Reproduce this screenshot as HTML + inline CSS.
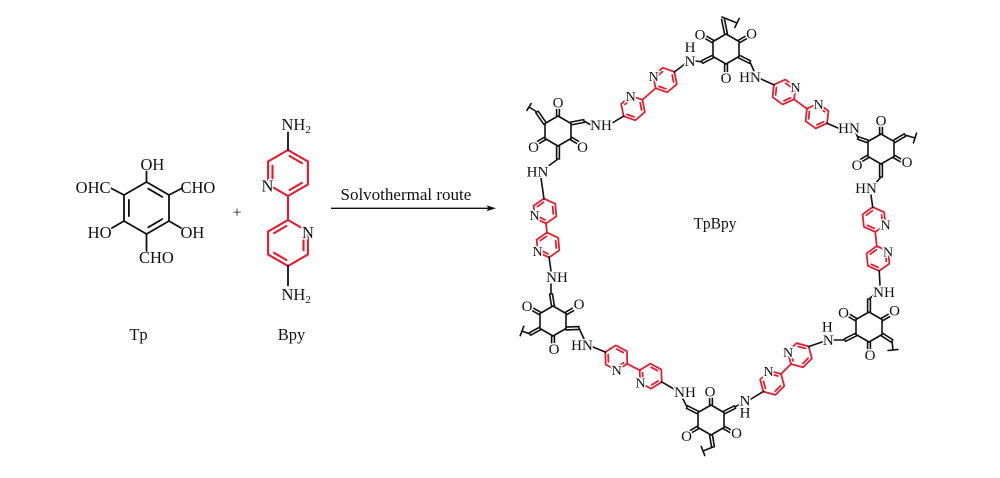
<!DOCTYPE html>
<html>
<head>
<meta charset="utf-8">
<style>
  html, body { margin: 0; padding: 0; background: #ffffff; }
  body { width: 1000px; height: 478px; overflow: hidden; }
  svg { display: block; }
  text { font-family: "Liberation Serif", "Times New Roman", serif; fill: #111; }
  .lbl { font-size: 16.5px; }
  .fl { font-size: 15px; text-anchor: middle; stroke: #fff; stroke-width: 3px; paint-order: stroke; stroke-linejoin: round; }
  .nl { font-size: 14px; text-anchor: middle; stroke: #fff; stroke-width: 3px; paint-order: stroke; stroke-linejoin: round; }
  .k { fill: none; stroke: #111; stroke-width: 1.8; stroke-linecap: round; stroke-linejoin: round; }
  .kf { fill: none; stroke: #111; stroke-width: 1.6; stroke-linecap: round; stroke-linejoin: round; }
  .rl { fill: none; stroke: #e8192c; stroke-width: 2.1; stroke-linecap: round; stroke-linejoin: round; }
  .r { fill: none; stroke: #e8192c; stroke-width: 1.75; stroke-linecap: round; stroke-linejoin: round; }
</style>
</head>
<body>
<svg width="1000" height="478" viewBox="0 0 1000 478" xmlns="http://www.w3.org/2000/svg">
  <rect width="1000" height="478" fill="#fff"/>

  <!-- ===== Tp monomer ===== -->
  <path class="k" d="M146.5,182L169,195L169,221L146.5,234L124,221L124,195Z
    M148.3,188.7L162.3,196.9 M128.9,199.9L128.9,216.1 M162.3,219.1L148.3,227.3
    M146.5,182L146.5,171.5 M124,195L111.5,188.5 M169,195L181.5,188.5
    M124,221L112,228 M169,221L181,228 M146.5,234L146.5,251"/>
  <text class="lbl" x="140.5" y="170">OH</text>
  <text class="lbl" x="110.5" y="193" text-anchor="end">OHC</text>
  <text class="lbl" x="180.5" y="193">CHO</text>
  <text class="lbl" x="111.5" y="238" text-anchor="end">HO</text>
  <text class="lbl" x="180.5" y="238">OH</text>
  <text class="lbl" x="139" y="263">CHO</text>
  <text class="lbl" x="138.5" y="340" text-anchor="middle">Tp</text>

  <text x="237" y="217.5" font-size="16" text-anchor="middle">+</text>

  <!-- ===== Bpy monomer ===== -->
  <path class="rl" d="M288,150L307.9,161.5L307.9,184.5L288,196L268.1,184.5L268.1,161.5Z
    M289.6,156L301.9,163.1 M301.9,182.9L289.6,190 M272.5,180.2L272.5,165.8
    M288,196L288,220
    M288,220L307.9,231.5L307.9,254.5L288,266L268.1,254.5L268.1,231.5Z
    M303.5,235.8L303.5,250.2 M286.4,260L274.1,252.9 M274.1,233.1L286.4,226"/>
  <path class="k" d="M288,150L288,132.5 M288,266L288,285.5"/>
  <text class="lbl" x="281.5" y="130">NH<tspan font-size="11" dy="3">2</tspan></text>
  <text class="lbl" x="281.5" y="300">NH<tspan font-size="11" dy="3">2</tspan></text>
  <text class="lbl" x="267.5" y="191.5" text-anchor="middle" stroke="#fff" stroke-width="3" paint-order="stroke">N</text>
  <text class="lbl" x="308" y="238" text-anchor="middle" stroke="#fff" stroke-width="3" paint-order="stroke">N</text>
  <text class="lbl" x="291.5" y="340" text-anchor="middle">Bpy</text>

  <!-- ===== Arrow ===== -->
  <text x="340.5" y="200" font-size="17">Solvothermal route</text>
  <line x1="331" y1="208.3" x2="489" y2="208.3" stroke="#111" stroke-width="1.3"/>
  <polygon points="496,208.3 486.5,205.3 488.5,208.3 486.5,211.3" fill="#111"/>

  <!-- ===== Framework: pyridine rings (red) ===== -->
  <g class="r">
    <g transform="translate(633,108) rotate(-41)"><path d="M12.5,0L6.25,10.83L-6.25,10.83L-12.5,0L-6.25,-10.83L6.25,-10.83Z M8.79,0.8L5.09,7.21 M-5.09,7.21L-8.79,0.8 M-3.7,-8.01L3.7,-8.01"/></g>
    <g transform="translate(665,80) rotate(-41)"><path d="M12.5,0L6.25,10.83L-6.25,10.83L-12.5,0L-6.25,-10.83L6.25,-10.83Z M8.79,0.8L5.09,7.21 M-5.09,7.21L-8.79,0.8 M-3.7,-8.01L3.7,-8.01"/></g>
    <g transform="translate(784,92) rotate(36)"><path d="M12.5,0L6.25,10.83L-6.25,10.83L-12.5,0L-6.25,-10.83L6.25,-10.83Z M8.79,0.8L5.09,7.21 M-5.09,7.21L-8.79,0.8 M-3.7,-8.01L3.7,-8.01"/></g>
    <g transform="translate(817,116) rotate(36)"><path d="M12.5,0L6.25,10.83L-6.25,10.83L-12.5,0L-6.25,-10.83L6.25,-10.83Z M8.79,0.8L5.09,7.21 M-5.09,7.21L-8.79,0.8 M-3.7,-8.01L3.7,-8.01"/></g>
    <g transform="translate(874,219.5) rotate(84)"><path d="M12.5,0L6.25,10.83L-6.25,10.83L-12.5,0L-6.25,-10.83L6.25,-10.83Z M8.79,0.8L5.09,7.21 M-5.09,7.21L-8.79,0.8 M-3.7,-8.01L3.7,-8.01"/></g>
    <g transform="translate(878,258.5) rotate(84)"><path d="M12.5,0L6.25,10.83L-6.25,10.83L-12.5,0L-6.25,-10.83L6.25,-10.83Z M8.79,0.8L5.09,7.21 M-5.09,7.21L-8.79,0.8 M-3.7,-8.01L3.7,-8.01"/></g>
    <g transform="translate(799.8,355.2) rotate(135)"><path d="M12.5,0L6.25,10.83L-6.25,10.83L-12.5,0L-6.25,-10.83L6.25,-10.83Z M8.79,0.8L5.09,7.21 M-5.09,7.21L-8.79,0.8 M-3.7,-8.01L3.7,-8.01"/></g>
    <g transform="translate(772.2,382.8) rotate(135)"><path d="M12.5,0L6.25,10.83L-6.25,10.83L-12.5,0L-6.25,-10.83L6.25,-10.83Z M8.79,0.8L5.09,7.21 M-5.09,7.21L-8.79,0.8 M-3.7,-8.01L3.7,-8.01"/></g>
    <g transform="translate(616.3,357.9) rotate(28)"><path d="M12.5,0L6.25,10.83L-6.25,10.83L-12.5,0L-6.25,-10.83L6.25,-10.83Z M8.79,0.8L5.09,7.21 M-5.09,7.21L-8.79,0.8 M-3.7,-8.01L3.7,-8.01"/></g>
    <g transform="translate(650.7,376.1) rotate(28)"><path d="M12.5,0L6.25,10.83L-6.25,10.83L-12.5,0L-6.25,-10.83L6.25,-10.83Z M8.79,0.8L5.09,7.21 M-5.09,7.21L-8.79,0.8 M-3.7,-8.01L3.7,-8.01"/></g>
    <g transform="translate(545,211) rotate(85)"><path d="M12.5,0L6.25,10.83L-6.25,10.83L-12.5,0L-6.25,-10.83L6.25,-10.83Z M8.79,0.8L5.09,7.21 M-5.09,7.21L-8.79,0.8 M-3.7,-8.01L3.7,-8.01"/></g>
    <g transform="translate(548,245) rotate(85)"><path d="M12.5,0L6.25,10.83L-6.25,10.83L-12.5,0L-6.25,-10.83L6.25,-10.83Z M8.79,0.8L5.09,7.21 M-5.09,7.21L-8.79,0.8 M-3.7,-8.01L3.7,-8.01"/></g>
    <!-- inter-ring bonds -->
    <path d="M642.1,100.1L655.9,87.9 M793.7,99.1L807.3,109 M875.2,231.4L876.8,246.6
             M791.3,363.7L780.7,374.3 M626.9,363.5L640.1,370.5 M546,223L547,233"/>
  </g>

  <!-- linker-to-amine bonds (black) -->
  <path class="kf" d="M623.9,115.9L613,122.5 M674.1,72.1L685,64
    M774.3,85L761,79 M826.7,123.1L838,128
    M872.8,207.6L871,195 M879.2,270.4L880,285
    M808.3,346.7L822,342 M763.7,391.3L751,399
    M605.7,352.3L593,347 M661.3,381.7L674,389
    M544,199L541,178 M549,257L551,271"/>

  <!-- ===== Framework: Tp cores (black) ===== -->
  <path class="kf" d="
    M558,116L571,123.5L571,138.5L558,146L545,138.5L545,123.5Z
    M556.6,116L556.6,109M559.4,116L559.4,109
    M544.3,137.3L537.4,141.3M545.7,139.7L538.8,143.7
    M570.3,139.7L577.2,143.7M571.7,137.3L578.6,141.3
    M571.3,124.9L584.3,122.4M570.7,122.1L583.7,119.6 M584,121L590,124.5
    M556.6,146L556.6,159M559.4,146L559.4,159 M558,159L547,167
    M546.2,122.7L538.2,111.2M543.8,124.3L535.8,112.8 M537,112L529,107 M531.1,103.6L526.9,110.4

    M726,34L739,41.5L739,56.5L726,64L713,56.5L713,41.5Z
    M713.7,40.3L706.8,36.3M712.3,42.7L705.4,38.7
    M739.7,42.7L746.6,38.7M738.3,40.3L745.2,36.3
    M724.6,64L724.6,72M727.4,64L727.4,72
    M727.4,33.7L724.4,18.7M724.6,34.3L721.6,19.3 M722,17L737,23 M739.2,18.5L734.8,27.5
    M712.4,55.3L701.4,60.8M713.6,57.8L702.6,63.3 M702,62L696,61
    M738.4,57.8L749.4,63.3M739.6,55.3L750.6,60.8 M750,62L754,71

    M881,134L894,141.5L894,156.5L881,164L868,156.5L868,141.5Z
    M879.6,134L879.6,127M882.4,134L882.4,127
    M867.3,155.3L860.4,159.3M868.7,157.7L861.8,161.7
    M893.3,157.7L900.2,161.7M894.7,155.3L901.6,159.3
    M868.5,140.2L858.5,136.7M867.5,142.8L857.5,139.3 M858,138L856,133
    M894.7,142.7L905.7,136.2M893.3,140.3L904.3,133.8 M905,135L915,138 M916.5,133.2L913.5,142.8
    M879.6,164L879.6,177M882.4,164L882.4,177 M881,177L875,184

    M869,312L882,319.5L882,334.5L869,342L856,334.5L856,319.5Z
    M856.7,318.3L849.8,314.3M855.3,320.7L848.4,316.7
    M882.7,320.7L889.6,316.7M881.3,318.3L888.2,314.3
    M867.6,342L867.6,349M870.4,342L870.4,349
    M867.6,312L867.6,299M870.4,312L870.4,299 M869,299L875,294
    M855.4,333.3L844.4,338.8M856.6,335.8L845.6,341.3 M845,340L834,340
    M881.2,335.7L891.2,342.2M882.8,333.3L892.8,339.8 M892,341L893,350 M888,350.5L898,349.5

    M711,405L724,412.5L724,427.5L711,435L698,427.5L698,412.5Z
    M709.6,405L709.6,398M712.4,405L712.4,398
    M697.3,426.3L690.4,430.3M698.7,428.7L691.8,432.7
    M723.3,428.7L730.2,432.7M724.7,426.3L731.6,430.3
    M698.6,411.3L687.6,405.8M697.4,413.8L686.4,408.3 M687,407L683,399
    M724.6,413.8L735.6,408.3M723.4,411.3L734.4,405.8 M735,407L740,404
    M709.6,435.2L711.6,447.2M712.4,434.8L714.4,446.8 M713,447L703,451 M701.2,446.4L704.8,455.6

    M553,306L566,313.5L566,328.5L553,336L540,328.5L540,313.5Z
    M540.7,312.3L533.8,308.3M539.3,314.7L532.4,310.7
    M566.7,314.7L573.6,310.7M565.3,312.3L572.2,308.3
    M551.6,336L551.6,343M554.4,336L554.4,343
    M554.4,305.8L552.4,293.8M551.6,306.2L549.6,294.2 M551,294L551,284
    M539.3,327.3L529.3,332.8M540.7,329.7L530.7,335.2 M530,334L522,331 M523.8,326.3L520.2,335.7
    M566,329.9L579,329.4M566,327.1L579,326.6 M579,328L584,339"/>

  <!-- ===== Framework labels ===== -->
  <!-- Node A -->
  <text class="fl" x="558" y="107.5">O</text>
  <text class="fl" x="533.5" y="152">O</text>
  <text class="fl" x="582.5" y="152">O</text>
  <text class="fl" x="601" y="130">NH</text>
  <text class="fl" x="537.5" y="176.5">HN</text>
  <!-- Node B -->
  <text class="fl" x="700" y="39.5">O</text>
  <text class="fl" x="751.5" y="38.5">O</text>
  <text class="fl" x="726" y="83">O</text>
  <text class="fl" x="690" y="52">H</text>
  <text class="fl" x="690" y="66">N</text>
  <text class="fl" x="750" y="82">HN</text>
  <!-- Node C -->
  <text class="fl" x="881" y="125.5">O</text>
  <text class="fl" x="857" y="170">O</text>
  <text class="fl" x="907" y="167">O</text>
  <text class="fl" x="849" y="133">HN</text>
  <text class="fl" x="866" y="193">HN</text>
  <!-- Node D -->
  <text class="fl" x="843.5" y="317.5">O</text>
  <text class="fl" x="894.5" y="315.5">O</text>
  <text class="fl" x="870" y="360">O</text>
  <text class="fl" x="884" y="297">NH</text>
  <text class="fl" x="827.3" y="331.5">H</text>
  <text class="fl" x="828.3" y="345">N</text>
  <!-- Node E -->
  <text class="fl" x="710" y="396.5">O</text>
  <text class="fl" x="686.5" y="441">O</text>
  <text class="fl" x="736.5" y="438">O</text>
  <text class="fl" x="685" y="397">NH</text>
  <text class="fl" x="745" y="405.5">N</text>
  <text class="fl" x="745" y="417.5">H</text>
  <!-- Node F -->
  <text class="fl" x="527" y="311">O</text>
  <text class="fl" x="579" y="309">O</text>
  <text class="fl" x="554" y="354">O</text>
  <text class="fl" x="557" y="282">NH</text>
  <text class="fl" x="582" y="350">HN</text>

  <!-- pyridine N labels -->
  <text class="nl" x="630.7" y="101">N</text>
  <text class="nl" x="653.7" y="81">N</text>
  <text class="nl" x="795.5" y="92">N</text>
  <text class="nl" x="818.5" y="109">N</text>
  <text class="nl" x="885.5" y="229.5">N</text>
  <text class="nl" x="888" y="256.5">N</text>
  <text class="nl" x="788" y="357">N</text>
  <text class="nl" x="768.5" y="376">N</text>
  <text class="nl" x="616.7" y="375">N</text>
  <text class="nl" x="640.5" y="387.5">N</text>
  <text class="nl" x="534.5" y="220">N</text>
  <text class="nl" x="537.5" y="256">N</text>

  <text x="715" y="228.5" font-size="15.5" text-anchor="middle">TpBpy</text>
</svg>
</body>
</html>
